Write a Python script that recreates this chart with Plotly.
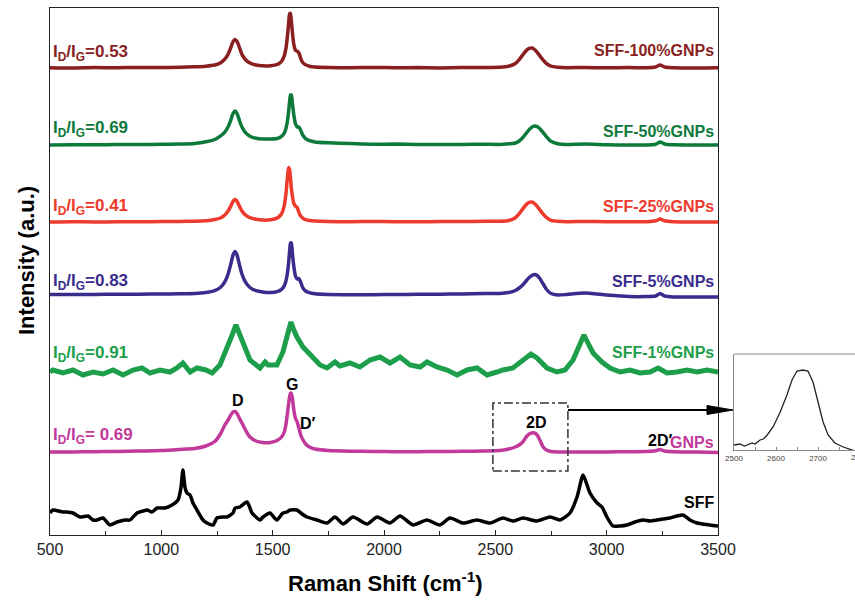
import plotly.graph_objects as go

# ---------------- data ----------------
wn_grid = [500, 600, 700, 800, 900, 1000, 1080, 1150, 1200, 1240,
           1265, 1285, 1300, 1312, 1322, 1331, 1340, 1350, 1362, 1378,
           1398, 1425, 1455, 1490, 1520, 1540, 1552, 1560, 1566, 1571,
           1576, 1580, 1584, 1589, 1595, 1602, 1610, 1618, 1626, 1635,
           1648, 1665, 1690, 1750, 1850, 1950, 2050, 2150, 2250, 2350,
           2450, 2520, 2560, 2590, 2610, 2625, 2640, 2652, 2664, 2676,
           2688, 2700, 2715, 2730, 2750, 2780, 2820, 2900, 3000, 3100,
           3180, 3220, 3240, 3260, 3300, 3400, 3500]

h_100 = [0.3, 0.0, 0.5, 0.2, 0.6, 0.4, 0.8, 1.2, 1.8, 3.0,
         5.1, 8.8, 13.9, 20.5, 26.3, 28.5, 26.5, 21.0, 13.6, 8.3,
         5.0, 3.0, 2.2, 2.3, 3.5, 6.7, 12.1, 20.2, 31.0, 43.3,
         54.2, 54.5, 46.5, 34.8, 23.6, 17.8, 16.8, 15.0, 9.4, 5.5,
         3.2, 1.8, 1.0, 0.5, 0.3, 0.6, 0.2, 0.4, 0.1, 0.5,
         0.6, 0.8, 1.8, 4.5, 9.2, 13.7, 17.6, 19.6, 20.0, 18.5,
         15.6, 12.1, 7.8, 4.3, 1.8, 0.8, 0.3, 0.5, 0.2, 0.4,
         0.3, 1.0, 3.0, 1.0, 0.3, 0.0, 0.2]

h_50 = [0.0, 0.3, 0.2, 0.5, 0.4, 0.7, 1.0, 1.6, 3.2, 5.5,
        8.8, 12.8, 18.2, 25.0, 31.5, 34.0, 31.5, 25.0, 18.0, 12.4,
        8.8, 6.8, 6.0, 6.0, 6.5, 8.6, 11.8, 16.8, 23.5, 32.0,
        43.5, 50.0, 50.0, 41.0, 30.0, 21.5, 18.0, 18.0, 14.8, 10.0,
        6.3, 4.3, 3.1, 2.2, 1.4, 0.8, 0.9, 0.5, 0.4, 0.6,
        0.7, 0.6, 1.2, 2.0, 4.5, 7.9, 12.1, 15.4, 17.9, 19.0,
        18.4, 16.3, 12.4, 8.2, 3.7, 1.2, 0.5, 1.0, 0.3, 0.0,
        0.1, 0.8, 3.0, 1.0, 0.2, 0.0, 0.0]

h_25 = [0.0, 0.3, 0.0, 0.2, 0.3, 0.4, 0.5, 0.8, 1.3, 2.5,
        4.0, 7.0, 11.0, 16.0, 20.6, 22.4, 20.6, 16.1, 11.1, 7.0,
        4.3, 2.7, 1.9, 2.2, 3.9, 8.2, 16.4, 29.0, 43.9, 54.4,
        52.4, 44.0, 33.5, 25.5, 18.6, 16.0, 14.6, 9.5, 5.9, 3.9,
        2.4, 1.5, 0.9, 0.5, 0.3, 0.5, 0.3, 0.2, 0.4, 0.4,
        0.8, 0.7, 1.5, 4.3, 9.2, 13.7, 17.6, 19.6, 20.0, 18.5,
        15.6, 12.1, 7.8, 4.3, 1.6, 0.8, 0.3, 0.5, 0.3, 0.2,
        0.3, 1.2, 3.0, 1.2, 0.3, 0.0, 0.0]

h_5 = [0.4, 0.5, 0.6, 0.7, 0.8, 1.0, 1.2, 1.5, 2.4, 4.4,
       7.5, 13.2, 21.0, 31.0, 40.0, 43.5, 40.0, 31.0, 21.0, 12.8,
       7.5, 4.3, 3.0, 2.5, 3.4, 5.6, 9.1, 14.4, 21.5, 30.7,
       43.5, 52.0, 52.0, 41.0, 28.6, 19.3, 16.0, 16.4, 12.8, 7.4,
       4.0, 2.3, 1.2, 0.5, 0.3, 0.3, 0.5, 0.7, 0.8, 1.0,
       1.5, 1.5, 2.5, 4.5, 7.5, 10.5, 14.5, 17.5, 19.5, 20.5,
       19.5, 16.5, 11.0, 5.5, 1.5, 0.0, 0.5, 2.0, 0.0, -1.5,
       -1.5, -1.0, 1.5, -1.0, -2.0, -2.0, -2.0]

h_gnps = [0.0, 0.0, 0.3, 0.5, 1.0, 1.5, 2.5, 3.5, 6.0, 10.5,
          18.0, 27.0, 32.0, 37.0, 40.0, 40.5, 38.5, 34.0, 29.0, 22.0,
          15.0, 11.0, 9.5, 9.5, 11.5, 15.0, 20.0, 28.0, 38.0, 47.0,
          55.0, 59.0, 58.5, 53.0, 42.0, 34.0, 30.0, 24.0, 17.0, 12.5,
          8.0, 5.0, 3.0, 1.5, 0.8, 0.5, 0.3, 0.3, 0.5, 0.7,
          1.0, 1.5, 3.0, 5.0, 7.5, 10.5, 15.5, 18.0, 19.0, 19.0,
          17.0, 12.0, 5.0, 2.0, 0.5, 0.0, 0.0, 0.0, 0.0, 0.3,
          0.5, 1.2, 2.5, 1.0, 0.3, 0.0, -0.5]

wn_1 = [500, 513, 558, 603, 648, 693, 738, 783, 828, 873,
        913, 949, 994, 1039, 1070, 1097, 1129, 1160, 1200, 1228,
        1263, 1299, 1318, 1335, 1350, 1362, 1398, 1443, 1466, 1479,
        1519, 1546, 1565, 1582, 1595, 1609, 1636, 1681, 1713, 1744,
        1780, 1802, 1847, 1892, 1937, 1982, 2027, 2072, 2117, 2162,
        2193, 2238, 2283, 2328, 2373, 2418, 2463, 2507, 2534, 2579,
        2624, 2660, 2687, 2732, 2777, 2813, 2849, 2880, 2898, 2916,
        2939, 2979, 3015, 3060, 3105, 3150, 3195, 3231, 3271, 3316,
        3361, 3406, 3451, 3500]
h_1 = [0, 2, -1, 2, -3, 0, -2, 2, -3, 2,
       4, -1, 2, 0, 4, 9, 0, 4, 2, -1,
       7, 25, 37, 47, 39, 32, 12, 4, 10, 7,
       7, 20, 34, 50, 42, 35, 25, 15, 7, 4,
       10, 6, 9, 5, 12, 15, 9, 15, 7, 5,
       10, 5, 2, -3, 2, 4, -3, 0, 2, 4,
       12, 18, 14, 4, 0, 2, 12, 29, 37, 29,
       19, 10, 4, 0, 2, -1, 0, 4, -1, 0,
       2, 0, 2, 0]

wn_sff = [500, 513, 558, 576, 603, 635, 671, 693, 711, 738,
          769, 801, 837, 859, 891, 904, 936, 958, 981, 1016,
          1048, 1075, 1088, 1097, 1106, 1115, 1129, 1142, 1160, 1187,
          1205, 1232, 1250, 1277, 1295, 1322, 1331, 1353, 1385, 1407,
          1425, 1443, 1457, 1488, 1519, 1546, 1564, 1578, 1609, 1632,
          1654, 1699, 1744, 1780, 1816, 1861, 1924, 1969, 2027, 2072,
          2130, 2193, 2251, 2296, 2355, 2418, 2476, 2534, 2579, 2624,
          2687, 2746, 2790, 2835, 2867, 2894, 2912, 2925, 2957, 2979,
          3001, 3028, 3060, 3091, 3127, 3163, 3195, 3226, 3253, 3284,
          3316, 3343, 3374, 3406, 3464, 3500]
h_sff = [4, 7, 5, 5, 4, 0, 1, -3, -3, -1,
         -8, -5, -3, -3, 4, 5, 7, 5, 9, 9,
         12, 17, 29, 47, 30, 24, 22, 14, 7, -3,
         -6, -8, -1, 0, 0, 4, 9, 10, 15, 4,
         0, -3, 0, 4, -3, 4, 5, 7, 7, 3,
         0, -3, -6, 0, -7, 0, -7, 0, -6, 1,
         -8, -3, -8, -1, -6, -3, -6, -1, -4, -1,
         -4, 0, -3, 4, 20, 42, 32, 24, 14, 10,
         0, -9, -9, -8, -5, -3, -4, -3, -2, -1,
         1, 2, -3, -6, -8, -9]

wn_inset = [2500, 2514, 2525, 2543, 2550, 2562, 2570, 2579, 2593, 2610,
            2626, 2638, 2650, 2664, 2676, 2688, 2700, 2712, 2724, 2740,
            2760, 2783, 2788]
h_inset = [5, 6, 4, 7, 6, 10, 11, 15, 23, 38,
           55, 70, 79, 80, 79, 68, 48, 28, 15, 7,
           3, 0, -1]

names = ["SFF-100%GNPs", "SFF-50%GNPs", "SFF-25%GNPs", "SFF-5%GNPs",
         "SFF-1%GNPs", "GNPs", "SFF"]
ratios = ["0.53", "0.69", "0.41", "0.83", "0.91", " 0.69"]
offsets = [467, 390, 313, 240, 163, 83, 18]
colors = ["#8a1f22", "#0d7a3c", "#ee3a2c", "#3a2c8c", "#1c9e4a", "#c1399b", "#000000"]

# ---------------- layout helpers ----------------
FONT = "Liberation Sans, Arial, sans-serif"
PL, PR, PT, PB = 50, 718, 8, 535
W, H = 855, 603
PW = W - PL          # plot area width (r margin 0)
PH = PB - PT


def px(xp):
    return (xp - PL) / PW


def py(yp):
    return (PB - yp) / PH


fig = go.Figure()

smooth = [h_100, h_50, h_25, h_5, None, h_gnps, None]
for i, name in enumerate(names):
    if name == "SFF-1%GNPs":
        xs, hs, lw, shape = wn_1, h_1, 5, "linear"
    elif name == "SFF":
        xs, hs, lw, shape = wn_sff, h_sff, 3.5, "spline"
    else:
        xs, hs, lw, shape = wn_grid, smooth[i], 3.5, "spline"
    fig.add_trace(go.Scatter(
        x=xs, y=[v + offsets[i] for v in hs], mode="lines", name=name,
        line=dict(color=colors[i], width=lw, shape=shape, smoothing=0.6),
        showlegend=False, hoverinfo="skip"))

fig.add_trace(go.Scatter(
    x=wn_inset, y=h_inset, mode="lines", xaxis="x2", yaxis="y2",
    line=dict(color="#222", width=1.3), showlegend=False, hoverinfo="skip"))

annotations = []


def ann(text, xp, yp, color, size=16, xanchor="left", yanchor="middle", angle=0):
    annotations.append(dict(text=text, x=px(xp), y=py(yp), xref="paper", yref="paper",
                            showarrow=False, textangle=angle,
                            font=dict(family=FONT, size=size, color=color),
                            xanchor=xanchor, yanchor=yanchor))


left_y = [53, 129, 207, 282, 354, 436]
for r, yy, c in zip(ratios, left_y, colors):
    ann("<b>I<sub>D</sub>/I<sub>G</sub>=" + r + "</b>", 51, yy, c, 17)

right_y = [51, 131, 207, 281, 352]
for n, yy, c in zip(names[:5], right_y, colors):
    ann("<b>" + n + "</b>", 716, yy, c, 16, xanchor="right")
ann("<b>GNPs</b>", 716, 442, colors[5], 16, xanchor="right")
ann("<b>2D\u2032</b>", 674, 440, "#000", 16, xanchor="right")
ann("<b>SFF</b>", 716, 502, "#000", 16, xanchor="right")

ann("<b>D</b>", 238, 400, "#000", 16, xanchor="center")
ann("<b>G</b>", 292, 384, "#000", 16, xanchor="center")
ann("<b>D\u2032</b>", 308, 423, "#000", 16, xanchor="center")
ann("<b>2D</b>", 536, 422, "#000", 16, xanchor="center")

ann("<b>Raman Shift (cm<sup>-1</sup>)</b>", 385, 582, "#000", 22, xanchor="center")
ann("<b>Intensity (a.u.)</b>", 26, 261, "#000", 22, xanchor="center", angle=-90)
ann("2800", 860, 457, "#444", 8, xanchor="center")

shapes = [
    dict(type="rect", xref="x", yref="y", x0=2489, x1=2826, y0=PB - 471, y1=PB - 403,
         line=dict(color="#333", width=1.5, dash="dashdot")),
    dict(type="line", xref="paper", yref="paper", x0=px(568), x1=px(712),
         y0=py(410), y1=py(410), line=dict(color="#000", width=2)),
    dict(type="path", xref="paper", yref="paper",
         path=f"M {px(707)},{py(405.5)} L {px(733)},{py(410)} L {px(707)},{py(414.5)} Z",
         fillcolor="#000", line=dict(color="#000", width=1)),
    dict(type="line", xref="paper", yref="paper", x0=px(734), x1=px(858),
         y0=py(354), y1=py(354), line=dict(color="#888", width=1)),
]

fig.update_layout(
    template="none",
    width=W, height=H, autosize=False,
    margin=dict(l=PL, r=0, t=PT, b=H - PB, pad=0, autoexpand=False),
    paper_bgcolor="white", plot_bgcolor="white",
    font=dict(family=FONT, color="#222"),
    showlegend=False,
    xaxis=dict(domain=[0, px(PR)], range=[500, 3500], tickvals=[500, 1000, 1500, 2000, 2500, 3000, 3500],
               automargin=False,
               showline=True, mirror=True, linecolor="#222", linewidth=1.3,
               ticks="inside", ticklen=5, tickcolor="#222", tickwidth=1.2,
               minor=dict(tickvals=[750, 1250, 1750, 2250, 2750, 3250], ticks="inside", ticklen=4,
                          tickcolor="#222", tickwidth=1.2),
               showgrid=False, zeroline=False,
               tickfont=dict(family=FONT, size=16, color="#222")),
    yaxis=dict(domain=[0, 1], range=[0, PH], showline=True, mirror=True, linecolor="#222",
               automargin=False,
               linewidth=1.3, showticklabels=False, ticks="", showgrid=False, zeroline=False),
    xaxis2=dict(domain=[px(734), 1], range=[2500, 2788], anchor="y2", automargin=False,
                tickvals=[2500, 2600, 2700], showline=True, linecolor="#888", linewidth=1,
                ticks="inside", ticklen=3, tickcolor="#888",
                minor=dict(tickvals=[2550, 2650, 2750], ticks="inside", ticklen=3, tickcolor="#888"),
                showgrid=False, zeroline=False,
                tickfont=dict(family=FONT, size=8, color="#444")),
    yaxis2=dict(domain=[py(450), py(354)], range=[0, 96], anchor="x2", showline=True,
                automargin=False,
                linecolor="#888", linewidth=1, showticklabels=False, ticks="",
                showgrid=False, zeroline=False),
    annotations=annotations,
    shapes=shapes,
)

post = ("document.documentElement.style.overflow='hidden';"
        "document.body.style.overflow='hidden';document.body.style.margin='0';")
fig.write_html("out.html", config={"responsive": False}, post_script=post)
